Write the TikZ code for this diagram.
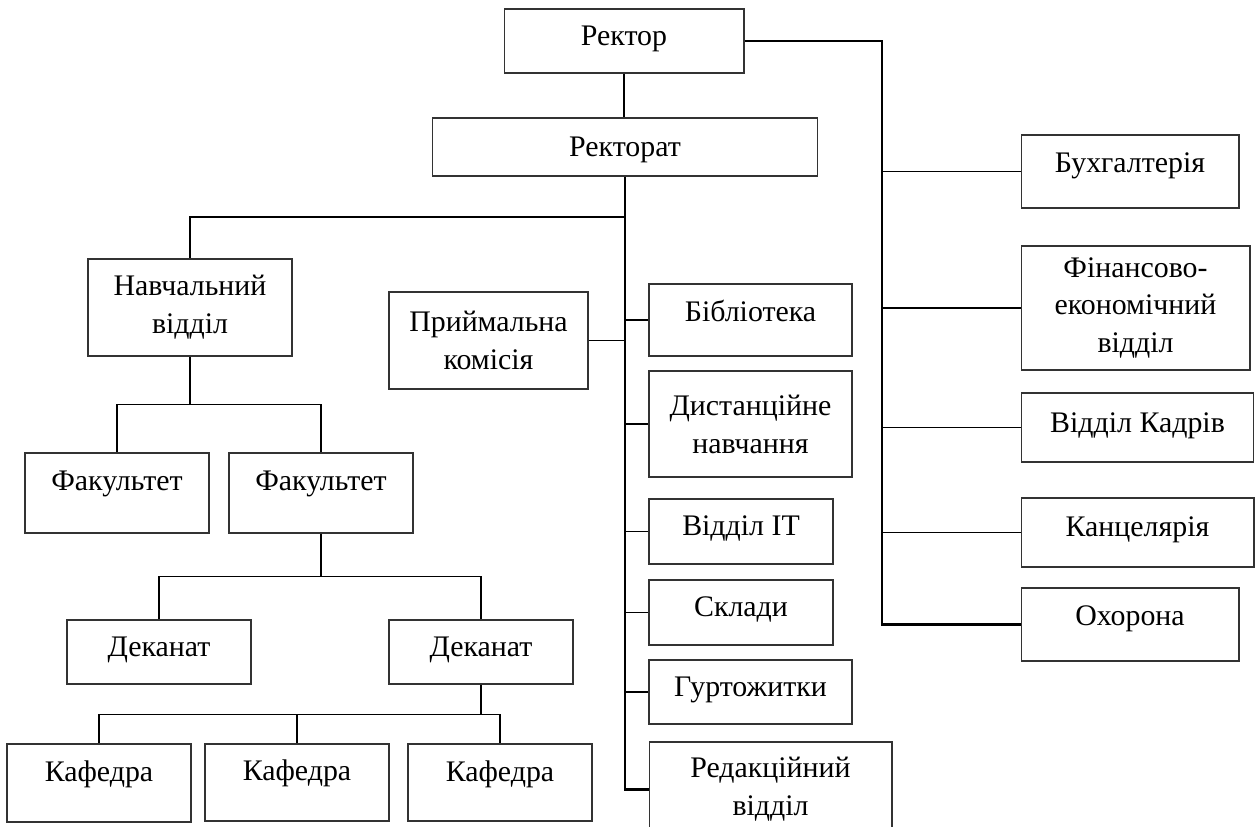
\documentclass[tikz,border=0pt]{standalone}
\usepackage{fontspec}
\setmainfont{Liberation Serif}

\begin{document}
\begin{tikzpicture}[
  x=0.02cm, y=-0.02cm,
  box/.style={draw=black!80, line width=0.6pt, rectangle, align=center, inner sep=2pt, font=\fontsize{17pt}{21.6pt}\selectfont},
  lift/.style={text height=12pt, text depth=#1},
  conn/.style={line width=1pt},
  trunk/.style={line width=1.5pt}
]
\useasboundingbox (0,0) rectangle (1255,827);
\clip (0,0) rectangle (1255,827);

\node[box, lift=6.4pt, minimum width=4.8cm, minimum height=1.28cm] (rektor) at (624,41) {Ректор};
\node[box, lift=0.8pt, minimum width=7.72cm, minimum height=1.16cm] (rektorat) at (625,147) {Ректорат};

% right column
\node[box, lift=10.9pt, minimum width=4.36cm, minimum height=1.46cm] (buh) at (1130,171.5) {Бухгалтерія};
\node[box, minimum width=4.58cm, minimum height=2.48cm] (fin) at (1135.5,308) {Фінансово-\\економічний\\відділ};
\node[box, lift=6.4pt, minimum width=4.64cm, minimum height=1.38cm] (kadry) at (1137.5,427.5) {Відділ Кадрів};
\node[box, lift=7.5pt, minimum width=4.66cm, minimum height=1.38cm] (kanc) at (1137.5,532.5) {Канцелярія};
\node[box, lift=10.4pt, minimum width=4.36cm, minimum height=1.46cm] (ohor) at (1130,624.5) {Охорона};

% middle column
\node[box, minimum width=3.98cm, minimum height=1.94cm] (pryim) at (488.5,340.5) {Приймальна\\комісія};
\node[box, lift=10.4pt, minimum width=4.06cm, minimum height=1.44cm] (bibl) at (750.5,320) {Бібліотека};
\node[box, minimum width=4.06cm, minimum height=2.12cm] (dyst) at (750.5,424) {Дистанційне\\навчання};
\node[box, lift=7pt, minimum width=3.68cm, minimum height=1.30cm] (it) at (741,531.5) {Відділ IT};
\node[box, lift=7pt, minimum width=3.68cm, minimum height=1.30cm] (sklad) at (741,612.5) {Склади};
\node[box, lift=6.4pt, minimum width=4.06cm, minimum height=1.28cm] (gurt) at (750.5,692) {Гуртожитки};
\node[box, minimum width=4.86cm, minimum height=1.90cm] (red) at (770.5,789.5) {Редакційний\\відділ};

% left tree
\node[box, minimum width=4.08cm, minimum height=1.94cm] (navch) at (190,307.5) {Навчальний\\відділ};
\node[box, lift=14.3pt, minimum width=3.68cm, minimum height=1.60cm] (fakL) at (117,493) {Факультет};
\node[box, lift=14.3pt, minimum width=3.68cm, minimum height=1.60cm] (fakR) at (321,493) {Факультет};
\node[box, lift=6.4pt, minimum width=3.68cm, minimum height=1.28cm] (dekL) at (159,652) {Деканат};
\node[box, lift=6.4pt, minimum width=3.68cm, minimum height=1.28cm] (dekR) at (481,652) {Деканат};
\node[box, lift=13.2pt, minimum width=3.68cm, minimum height=1.56cm] (kaf1) at (99,783) {Кафедра};
\node[box, lift=14.3pt, minimum width=3.68cm, minimum height=1.54cm] (kaf2) at (297,782.5) {Кафедра};
\node[box, lift=13.2pt, minimum width=3.68cm, minimum height=1.54cm] (kaf3) at (500,782.5) {Кафедра};

\coordinate (rtrunk) at (882,41);
\coordinate (ctrunk) at (625,217);

\draw[line width=0.7pt] (rektor.south) -- (rektor.south |- rektorat.north);

\draw[trunk] (rektor.east) -- (rtrunk) -- (rtrunk |- ohor.west) -- (ohor.west);
\foreach \n in {buh,fin,kadry,kanc}
  \draw[conn] (rtrunk |- \n.west) -- (\n.west);

\draw[trunk] (rektorat.south) -- (rektorat.south |- red.west) -- (red.west);
\foreach \n in {bibl,dyst,it,sklad,gurt}
  \draw[conn] (rektorat.south |- \n.west) -- (\n.west);
\draw[conn] (pryim.east) -- (rektorat.south |- pryim.east);
\draw[conn] (ctrunk) -| (navch.north);

\draw[conn] (navch.south) -- ++(0,48) coordinate (fhub);
\draw[conn] (fhub) -| (fakL.north);
\draw[conn] (fhub) -| (fakR.north);

\draw[conn] (fakR.south) -- ++(0,43) coordinate (dhub);
\draw[conn] (dhub) -| (dekL.north);
\draw[conn] (dhub) -| (dekR.north);

\draw[conn] (dekR.south) -- ++(0,30) coordinate (khub);
\draw[conn] (khub) -| (kaf1.north);
\draw[conn] (khub) -| (kaf2.north);
\draw[conn] (khub) -| (kaf3.north);

\end{tikzpicture}
\end{document}
